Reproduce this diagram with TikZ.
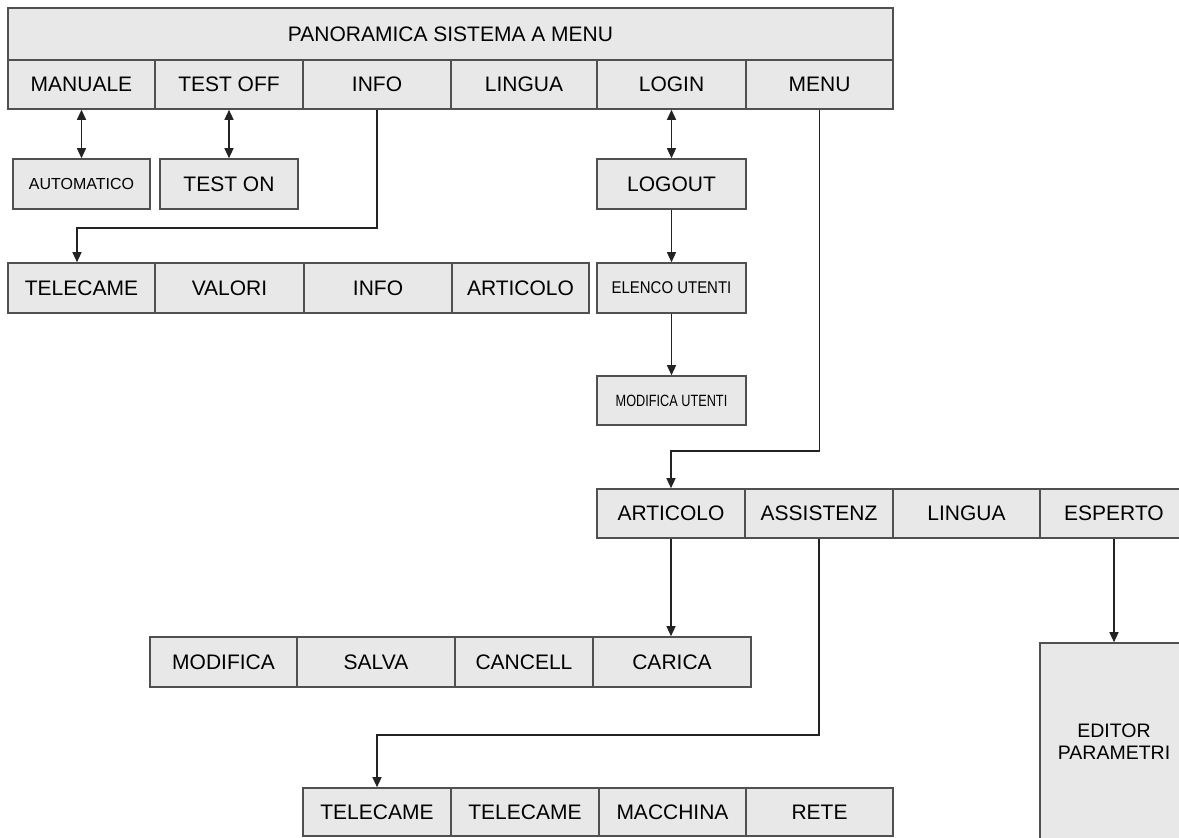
\documentclass[tikz,border=0pt]{standalone}
\usepackage{fontspec}
\setmainfont{Liberation Sans}
\usetikzlibrary{arrows.meta,calc}
\definecolor{cellfill}{RGB}{232,232,232}
\definecolor{cellline}{RGB}{80,80,80}
\definecolor{wireline}{RGB}{35,35,35}
\newcommand\bigf{\fontsize{21}{25}\selectfont}
\newcommand\midf{\fontsize{16}{19}\selectfont}
\tikzset{
  cell/.style={draw=cellline, fill=cellfill, line width=1.6pt, inner sep=0pt,
    font=\bigf, text=black},
  smallcell/.style={cell, font=\midf},
  wire/.style={draw=wireline, line width=1.3pt},
  arr/.style={wire, -{Triangle[length=10pt,width=9pt]}},
  darr/.style={wire, {Triangle[length=10pt,width=9pt]}-{Triangle[length=10pt,width=9pt]}},
}
\begin{document}
\begin{tikzpicture}[x=1pt,y=-1pt]
\useasboundingbox (0,0) rectangle (1179,838);
\clip (0,0) rectangle (1179,838);
\fill[white] (0,0) rectangle (1179,838);

% title and main menu row
\node[cell, minimum width=885pt, minimum height=52pt] (title) at (450.5,34) {PANORAMICA SISTEMA A MENU};
\node[cell, minimum width=147pt, minimum height=49pt] (manuale) at (81.5,84.5) {MANUALE};
\node[cell, minimum width=148pt, minimum height=49pt] (testoff) at (229,84.5) {TEST OFF};
\node[cell, minimum width=148pt, minimum height=49pt] (info) at (377,84.5) {INFO};
\node[cell, minimum width=146pt, minimum height=49pt] (lingua) at (524,84.5) {LINGUA};
\node[cell, minimum width=149pt, minimum height=49pt] (login) at (671.5,84.5) {LOGIN};
\node[cell, minimum width=147pt, minimum height=49pt] (menu) at (819.5,84.5) {MENU};

% toggles
\node[smallcell, minimum width=137pt, minimum height=50pt] (automatico) at (81.5,184) {AUTOMATICO};
\node[cell, minimum width=138pt, minimum height=50pt] (teston) at (229,184) {TEST ON};
\node[cell, minimum width=149pt, minimum height=50pt] (logout) at (671.5,184) {LOGOUT};

% info submenu
\node[cell, minimum width=147pt, minimum height=50pt] (tele1) at (81.5,288) {TELECAME};
\node[cell, minimum width=149pt, minimum height=50pt] (valori) at (229.5,288) {VALORI};
\node[cell, minimum width=148pt, minimum height=50pt] (info2) at (378,288) {INFO};
\node[cell, minimum width=137pt, minimum height=50pt] (articolo1) at (520.5,288) {ARTICOLO};

% users
\node[cell, minimum width=149pt, minimum height=50pt, font=\fontsize{17}{20}\selectfont] (elenco) at (671.5,288) {\scalebox{0.88}[1]{ELENCO UTENTI}};
\node[cell, minimum width=149pt, minimum height=49pt, font=\fontsize{16.3}{20}\selectfont] (modutenti) at (671.5,400.5) {\scalebox{0.78}[1]{MODIFICA UTENTI}};

% menu submenu
\node[cell, minimum width=148pt, minimum height=49pt] (articolo2) at (671,513.5) {ARTICOLO};
\node[cell, minimum width=148pt, minimum height=49pt] (assist) at (819,513.5) {ASSISTENZ};
\node[cell, minimum width=147pt, minimum height=49pt] (lingua2) at (966.5,513.5) {LINGUA};
\node[cell, minimum width=148pt, minimum height=49pt] (esperto) at (1114,513.5) {ESPERTO};

% articolo submenu
\node[cell, minimum width=147pt, minimum height=50pt] (modifica) at (223.5,662) {MODIFICA};
\node[cell, minimum width=158pt, minimum height=50pt] (salva) at (376,662) {SALVA};
\node[cell, minimum width=138pt, minimum height=50pt] (cancell) at (524,662) {CANCELL};
\node[cell, minimum width=158pt, minimum height=50pt] (carica) at (672,662) {CARICA};

% assistenza submenu
\node[cell, minimum width=148pt, minimum height=48pt] (tele2) at (377,812) {TELECAME};
\node[cell, minimum width=148pt, minimum height=48pt] (tele3) at (525,812) {TELECAME};
\node[cell, minimum width=147pt, minimum height=48pt] (macchina) at (672.5,812) {MACCHINA};
\node[cell, minimum width=147pt, minimum height=48pt] (rete) at (819.5,812) {RETE};

% editor
\node[cell, minimum width=148pt, minimum height=198pt, align=center,
  font=\fontsize{19.5}{22}\selectfont] (editor) at (1114,742) {EDITOR\\PARAMETRI};

% connectors
\coordinate (infoy) at (0,228);
\coordinate (menuy) at (0,451);
\coordinate (assy) at (0,735);
\draw[darr] (manuale.south) -- (automatico.north);
\draw[darr] (testoff.south) -- (teston.north);
\draw[darr] (login.south) -- (logout.north);
\draw[arr] (logout.south) -- (elenco.north);
\draw[arr] (elenco.south) -- (modutenti.north);
\draw[arr] (info.south) -- (info.south |- infoy) -| ([xshift=-4.5pt]tele1.north);
\draw[arr] (menu.south) -- (menu.south |- menuy) -| (articolo2.north);
\draw[arr] (articolo2.south) -- (articolo2.south |- carica.north);
\draw[arr] (assist.south) -- (assist.south |- assy) -| (tele2.north);
\draw[arr] (esperto.south) -- (editor.north);
\end{tikzpicture}
\end{document}
